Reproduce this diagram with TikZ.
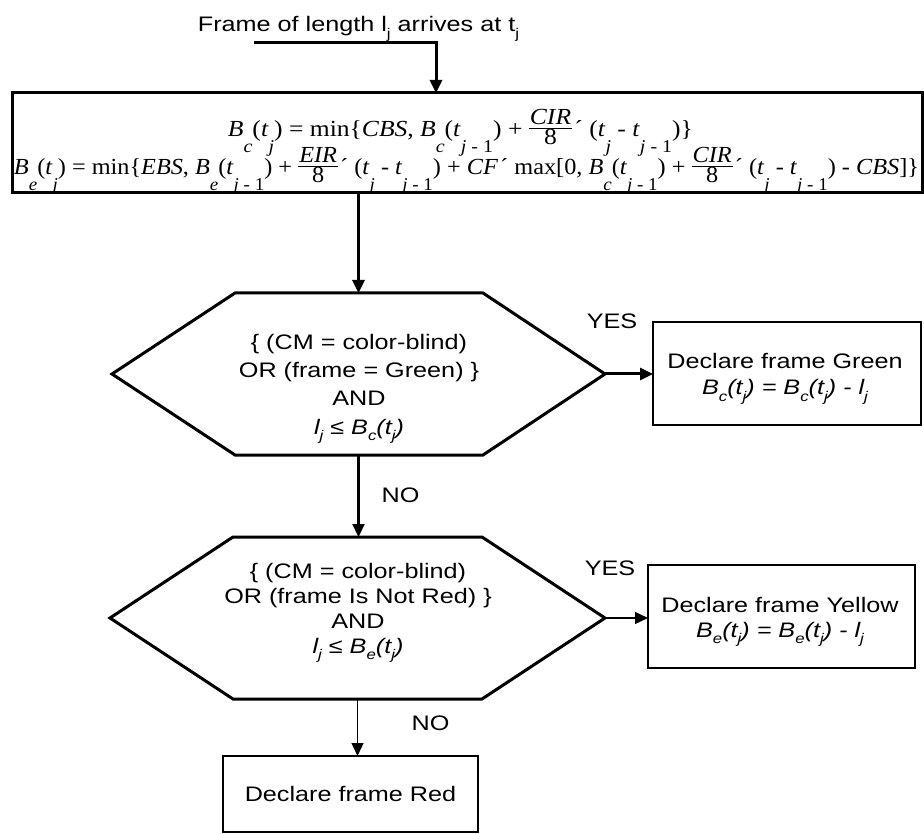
\documentclass[tikz,border=0pt]{standalone}
\usepackage{fontspec}
\usepackage{graphicx}
\setmainfont[FakeStretch=1.2]{Liberation Sans}
\newfontfamily\tms{Liberation Serif}
\usetikzlibrary{arrows.meta,calc}
\newcommand{\lowsub}[1]{\raisebox{-0.3em}{\fontsize{14pt}{14pt}\selectfont #1}}
\newcommand{\formfont}{\tms\fontsize{23pt}{23pt}\selectfont}
\newcommand{\fsub}[1]{\raisebox{-16pt}{\fontsize{18pt}{18pt}\selectfont #1}}
\newcommand{\fit}[1]{\textit{#1}}
\newcommand{\crs}{\kern2pt´}
\newsavebox\frnumbox
\newsavebox\frdenbox
\newlength\frwid
\newcommand{\ffrac}[2]{%
  \sbox\frnumbox{#1}\sbox\frdenbox{#2}%
  \setlength\frwid{\wd\frnumbox}%
  \ifdim\wd\frdenbox>\frwid\setlength\frwid{\wd\frdenbox}\fi
  \addtolength\frwid{2pt}%
  \makebox[\frwid]{\rlap{\raisebox{12pt}{\makebox[\frwid]{\usebox\frnumbox}}}%
  \rlap{\raisebox{8pt}{\rule{\frwid}{0.9pt}}}%
  \raisebox{-8pt}{\makebox[\frwid]{\usebox\frdenbox}}}}
\begin{document}
\begin{tikzpicture}[x=1pt,y=-1pt,
  every node/.style={inner sep=0pt, outer sep=0pt, font=\fontsize{21pt}{27pt}\selectfont},
  txt/.style={anchor=base},
  tip/.style={-{Triangle[length=13pt,width=12pt]}},
  hexnode/.style={minimum width=#1, minimum height=162pt},
]
\useasboundingbox (0,0) rectangle (924,834);

% title
\node[txt] (title) at (358.5,32) {Frame of length l\lowsub{j} arrives at t\lowsub{j}};

% formula box
\node[draw, line width=3pt, minimum width=910pt, minimum height=100pt] (fbox) at (467,143) {};
\node[txt, font=\formfont] (f1) at (460.5,137) {\resizebox{465pt}{\height}{%
\fit{B}\fsub{\fit{c}}(\fit{t}\fsub{\fit{j}}) = min\{\fit{CBS}, \fit{B}\fsub{\fit{c}}(\fit{t}\fsub{\fit{j} - 1}) + \ffrac{\fit{CIR}}{8}\crs{} (\fit{t}\fsub{\fit{j}} - \fit{t}\fsub{\fit{j} - 1})\}}};
\node[txt, font=\formfont] (f2) at (466.5,175) {\resizebox{905pt}{\height}{%
\fit{B}\fsub{\fit{e}}(\fit{t}\fsub{\fit{j}}) = min\{\fit{EBS}, \fit{B}\fsub{\fit{e}}(\fit{t}\fsub{\fit{j} - 1}) + \ffrac{\fit{EIR}}{8}\crs{} (\fit{t}\fsub{\fit{j}} - \fit{t}\fsub{\fit{j} - 1}) + \fit{CF}\crs{} max[0, \fit{B}\fsub{\fit{c}}(\fit{t}\fsub{\fit{j} - 1}) + \ffrac{\fit{CIR}}{8}\crs{} (\fit{t}\fsub{\fit{j}} - \fit{t}\fsub{\fit{j} - 1}) - \fit{CBS}]\}}};

% hexagon 1
\node[hexnode=493pt] (h1) at (358.5,374) {};
\draw[line width=3pt] (h1.west) -- ($(h1.north west)+(123,0)$) -- ($(h1.north east)+(-122,0)$) -- (h1.east) -- ($(h1.south east)+(-122,0)$) -- ($(h1.south west)+(123,0)$) -- cycle;
\node[txt] (h1a) at (359,349) {\{ (CM = color-blind)};
\node[txt] (h1b) at (359,377.5) {OR (frame = Green) \}};
\node[txt] (h1c) at (359,406) {AND};
\node[txt] (h1d) at (359,434.5) {\itshape l\lowsub{j} ≤ B\lowsub{c}(t\lowsub{j})};

% hexagon 2
\node[hexnode=495pt] (h2) at (357.5,618) {};
\draw[line width=3pt] (h2.west) -- ($(h2.north west)+(123,0)$) -- ($(h2.north east)+(-123,0)$) -- (h2.east) -- ($(h2.south east)+(-123,0)$) -- ($(h2.south west)+(123,0)$) -- cycle;
\node[txt] (h2a) at (358,578) {\{ (CM = color-blind)};
\node[txt] (h2b) at (358,603) {OR (frame Is Not Red) \}};
\node[txt] (h2c) at (358,628) {AND};
\node[txt] (h2d) at (358,653) {\itshape l\lowsub{j} ≤ B\lowsub{e}(t\lowsub{j})};

% green box
\node[draw, line width=2.3pt, minimum width=268pt, minimum height=103pt] (green) at (787,373.5) {};
\node[txt] (ga) at (785,368) {Declare frame Green};
\node[txt] (gb) at (785,395) {\itshape B\lowsub{c}(t\lowsub{j}) = B\lowsub{c}(t\lowsub{j}) - l\lowsub{j}};

% yellow box
\node[draw, line width=2.7pt, minimum width=267pt, minimum height=103pt] (yellow) at (781.5,616.5) {};
\node[txt] (ya) at (780,612) {Declare frame Yellow};
\node[txt] (yb) at (780,637) {\itshape B\lowsub{e}(t\lowsub{j}) = B\lowsub{e}(t\lowsub{j}) - l\lowsub{j}};

% red box
\node[draw, line width=2pt, minimum width=255pt, minimum height=76pt] (red) at (350.5,794) {Declare frame Red};

% labels
\node (yes1) at (612,321) {YES};
\node (yes2) at (610,568) {YES};
\node (no1) at (400.5,495) {NO};
\node (no2) at (430.5,723) {NO};

% connectors
\coordinate (ts) at (254,43);
\coordinate (tc) at (436,43);
\draw[line width=3pt, tip] (ts) -- (tc) -- (tc |- fbox.north);
\draw[line width=3pt, tip] (fbox.south -| h1.north) -- (h1.north);
\draw[line width=3pt, tip] (h1.east) -- (h1.east -| green.west);
\draw[line width=2.3pt, tip] (h1.south) -- (h1.south |- h2.north);
\draw[line width=1.3pt, tip] (h2.east) -- (h2.east -| yellow.west);
\draw[line width=1.3pt, tip] (h2.south) -- (h2.south |- red.north);
\end{tikzpicture}
\end{document}
